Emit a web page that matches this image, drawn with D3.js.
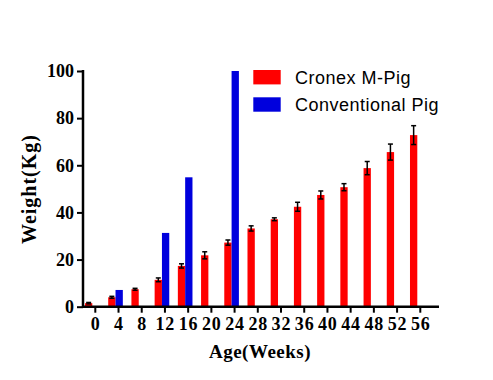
<!DOCTYPE html>
<html>
<head>
<meta charset="utf-8">
<script src="https://cdn.jsdelivr.net/npm/d3@7"></script>
<style>
  html, body { margin: 0; padding: 0; background: #fff; }
  svg { display: block; }
</style>
</head>
<body>
<script>
// ---- data ----
const weeks = ["0","4","8","12","16","20","24","28","32","36","40","44","48","52","56"];
const cronexMean = [1.5, 4.0, 7.4, 11.4, 17.3, 21.8, 27.2, 33.2, 37.1, 42.4, 47.4, 50.7, 58.8, 65.6, 72.8];
const cronexErr  = [0.3, 0.4, 0.4, 0.8, 0.9, 1.5, 1.1, 1.1, 0.6, 1.9, 1.7, 1.5, 2.8, 3.4, 4.0];
const conventionalMean = [null, 7.1, null, 31.3, 54.9, null, 100, null, null, null, null, null, null, null, null];
const yTicks = [0, 20, 40, 60, 80, 100];
const seriesNames = ["Cronex M-Pig", "Conventional Pig"];
const seriesColors = ["#ff0000", "#0000dd"];

// ---- layout ----
const W = 493, H = 380;
const svg = d3.select("body").append("svg").attr("width", W).attr("height", H);

const x = d3.scaleBand().domain(weeks).range([80.7, 428.9]).paddingInner(0.37).paddingOuter(0.185);
const y = d3.scaleLinear().domain([0, 100]).range([306.7, 71]);
const bw = x.bandwidth() / 2;

// bars
const gBars = svg.append("g");
gBars.selectAll("rect.cronex").data(weeks).join("rect")
  .attr("class", "cronex")
  .attr("x", d => x(d))
  .attr("width", bw)
  .attr("y", (d, i) => y(cronexMean[i]))
  .attr("height", (d, i) => y(0) - y(cronexMean[i]))
  .attr("fill", seriesColors[0]);

gBars.selectAll("rect.conv").data(weeks.filter((d, i) => conventionalMean[i] != null)).join("rect")
  .attr("class", "conv")
  .attr("x", d => x(d) + bw)
  .attr("width", bw)
  .attr("y", d => y(conventionalMean[weeks.indexOf(d)]))
  .attr("height", d => y(0) - y(conventionalMean[weeks.indexOf(d)]))
  .attr("fill", seriesColors[1]);

// error bars
const gErr = svg.append("g").attr("stroke", "#000").attr("stroke-width", 1.5).attr("fill", "none");
weeks.forEach((w, i) => {
  const cx = x(w) + bw / 2;
  const hi = y(cronexMean[i] + cronexErr[i]);
  const lo = y(cronexMean[i] - cronexErr[i]);
  gErr.append("line").attr("x1", cx).attr("x2", cx).attr("y1", hi).attr("y2", lo);
  gErr.append("line").attr("x1", cx - 2.5).attr("x2", cx + 2.5).attr("y1", hi).attr("y2", hi);
  gErr.append("line").attr("x1", cx - 2.5).attr("x2", cx + 2.5).attr("y1", lo).attr("y2", lo);
});

// axes
const axisX0 = 83, axisXEnd = 439;
const yAxis = d3.axisLeft(y).tickValues(yTicks).tickSize(6).tickPadding(3);
const gy = svg.append("g").attr("transform", `translate(${axisX0},0)`).call(yAxis);
gy.select(".domain").remove();
gy.selectAll(".tick line").attr("stroke", "#000").attr("stroke-width", 2);
gy.selectAll(".tick text")
  .attr("font-family", "'Liberation Serif', 'Times New Roman', serif")
  .attr("font-weight", "bold").attr("font-size", 18).attr("fill", "#000");

const xAxis = d3.axisBottom(x).tickSize(6).tickPadding(5);
const gx = svg.append("g").attr("transform", `translate(3,${y(0)})`).call(xAxis);
gx.select(".domain").remove();
gx.selectAll(".tick line").attr("stroke", "#000").attr("stroke-width", 2);
gx.selectAll(".tick text")
  .attr("font-family", "'Liberation Serif', 'Times New Roman', serif")
  .attr("font-weight", "bold").attr("font-size", 18).attr("fill", "#000")
  .attr("letter-spacing", 0.8).attr("dx", 0.4);

// axis lines
svg.append("line").attr("x1", axisX0).attr("x2", axisX0).attr("y1", y(100) - 1).attr("y2", y(0) + 1)
  .attr("stroke", "#000").attr("stroke-width", 2.5);
svg.append("line").attr("x1", axisX0 - 1).attr("x2", axisXEnd).attr("y1", y(0)).attr("y2", y(0))
  .attr("stroke", "#000").attr("stroke-width", 2.5);

// axis titles
svg.append("text").attr("transform", "translate(36,189) rotate(-90)")
  .attr("text-anchor", "middle")
  .attr("font-family", "'Liberation Serif', 'Times New Roman', serif")
  .attr("font-weight", "bold").attr("font-size", 20).attr("letter-spacing", 1)
  .attr("fill", "#000").text("Weight(Kg)");

svg.append("text").attr("x", 260).attr("y", 358)
  .attr("text-anchor", "middle")
  .attr("font-family", "'Liberation Serif', 'Times New Roman', serif")
  .attr("font-weight", "bold").attr("font-size", 19).attr("letter-spacing", 0.5)
  .attr("fill", "#000").text("Age(Weeks)");

// legend
const legend = svg.append("g");
seriesNames.forEach((name, i) => {
  const ly = 70 + i * 27.3;
  legend.append("rect").attr("x", 253.3).attr("y", ly).attr("width", 27.4).attr("height", 14.4)
    .attr("fill", seriesColors[i]);
  legend.append("text").attr("x", 295).attr("y", ly + 14)
    .attr("font-family", "'Liberation Sans', Arial, sans-serif")
    .attr("font-size", 18).attr("letter-spacing", 0.5)
    .attr("fill", "#000").text(name);
});
</script>
</body>
</html>
